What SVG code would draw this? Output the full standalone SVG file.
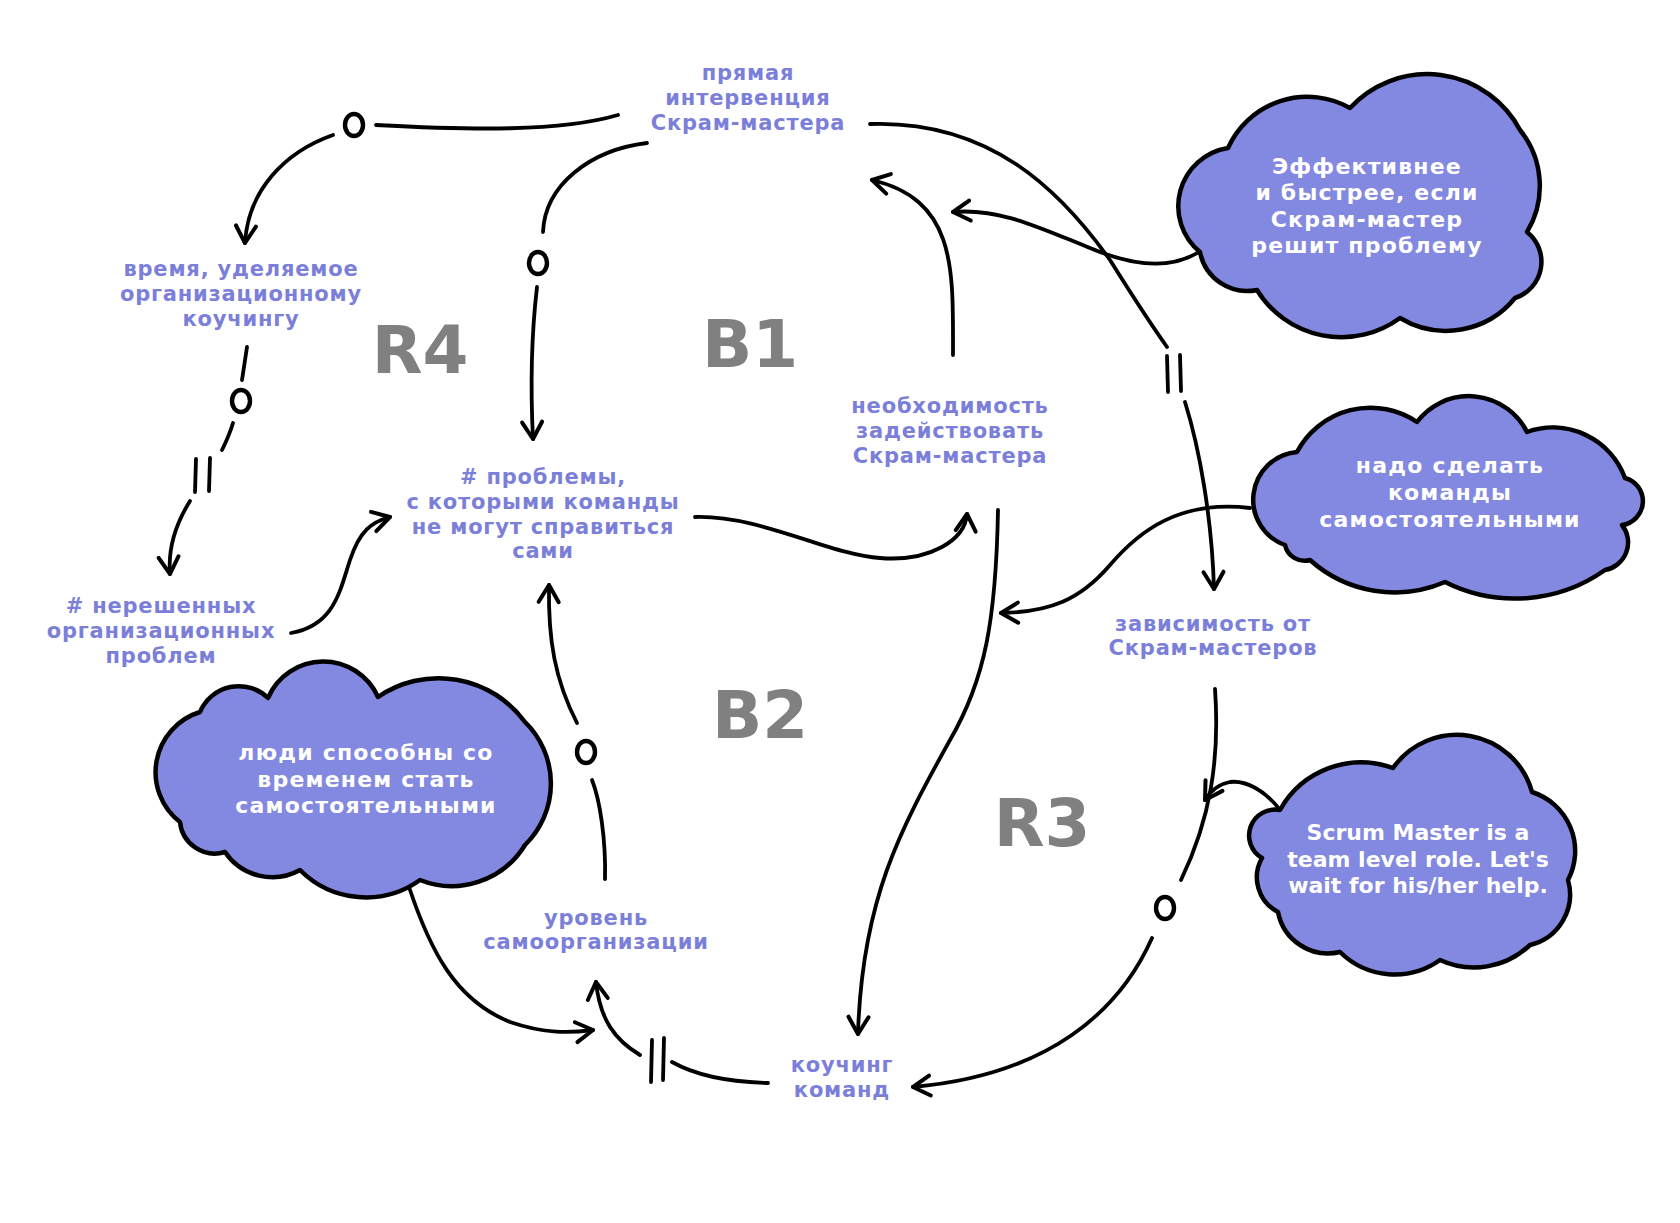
<svg xmlns="http://www.w3.org/2000/svg" width="1680" height="1223" viewBox="0 0 1680 1223">
<style>
.bg{fill:#fff}
.cloud{fill:#8388E0;stroke:#000;stroke-width:4.5;stroke-linejoin:round}
.lbl{font-family:"DejaVu Sans",sans-serif;font-weight:700;font-size:21px;letter-spacing:0.8px;fill:#7B7FD9;text-anchor:middle}
.ctx{font-family:"DejaVu Sans",sans-serif;font-weight:700;font-size:22px;letter-spacing:1.2px;fill:#fff;text-anchor:middle}
.ctx-en{letter-spacing:0}
.loop{font-family:"DejaVu Sans",sans-serif;font-weight:700;font-size:66px;fill:#808080;text-anchor:middle}
.ln{fill:none;stroke:#000;stroke-width:3.8;stroke-linecap:round;stroke-linejoin:round}
.arr{marker-end:url(#ah)}
.o{fill:none;stroke:#000;stroke-width:4.4}
</style>
<defs>
<marker id="ah" markerUnits="userSpaceOnUse" viewBox="-25 -15 30 30" refX="0" refY="0" markerWidth="30" markerHeight="30" orient="auto" overflow="visible">
<path d="M -17 -10 L 0 0 L -17 10" fill="none" stroke="#000" stroke-width="4" stroke-linecap="round" stroke-linejoin="round"/>
</marker>
</defs>
<rect class="bg" x="0" y="0" width="1680" height="1223"/>

<g id="connectors">
<!-- a: прямая -> время (o) -->
<path class="ln" d="M 618 115 C 560 132 470 130 376 125"/>
<ellipse class="o" cx="354" cy="125" rx="9" ry="11"/>
<path class="ln arr" d="M 333 135 C 285 152 248 190 245 243"/>
<!-- b: прямая -> # проблемы (o) -->
<path class="ln" d="M 647 143 C 590 150 545 185 543 232"/>
<ellipse class="o" cx="538" cy="263" rx="9" ry="11"/>
<path class="ln arr" d="M 537 287 C 532 330 530 380 533 439"/>
<!-- c: прямая -> зависимость (||) -->
<path class="ln" d="M 870 124 C 990 120 1060 190 1110 260 C 1135 300 1155 330 1167 347"/>
<path class="ln" d="M 1167 356 L 1168 392 M 1180 355 L 1181 391"/>
<path class="ln arr" d="M 1185 402 C 1200 450 1212 520 1214 589"/>
<!-- d: необходимость -> прямая -->
<path class="ln arr" d="M 953 355 C 953 270 957 200 872 180"/>
<!-- e: cloud1 -> link d -->
<path class="ln arr" d="M 1202 250 C 1170 272 1130 265 1090 248 C 1040 228 1000 208 953 212"/>
<!-- f: # проблемы -> необходимость -->
<path class="ln arr" d="M 695 517 C 760 515 830 555 880 558 C 930 562 965 540 967 514"/>
<!-- g: необходимость -> коучинг -->
<path class="ln arr" d="M 998 510 C 996 620 985 680 950 740 C 900 830 862 900 858 1034"/>
<!-- h: cloud2 -> link g -->
<path class="ln arr" d="M 1250 508 C 1180 500 1140 530 1110 565 C 1080 600 1050 612 1001 613"/>
<!-- i: зависимость -> коучинг (o) -->
<path class="ln" d="M 1215 689 C 1220 760 1210 820 1181 880"/>
<ellipse class="o" cx="1165" cy="908" rx="9" ry="11"/>
<path class="ln arr" d="M 1152 938 C 1120 1010 1050 1075 913 1087"/>
<!-- cloud3 -> link i -->
<path class="ln arr" d="M 1280 810 C 1265 790 1245 780 1230 782 C 1218 784 1210 792 1205 800"/>
<!-- j: время -> нерешенных (o, ||) -->
<path class="ln" d="M 247 347 L 242 380"/>
<ellipse class="o" cx="241" cy="401" rx="9" ry="11"/>
<path class="ln" d="M 233 423 C 230 433 226 442 222 450"/>
<path class="ln" d="M 196 459 L 195 492 M 210 458 L 209 491"/>
<path class="ln arr" d="M 190 501 C 175 525 168 550 170 574"/>
<!-- k: нерешенных -> # проблемы -->
<path class="ln arr" d="M 291 633 C 335 625 340 590 350 560 C 360 530 372 522 390 517"/>
<!-- l: уровень -> # проблемы (o) -->
<path class="ln" d="M 605 879 C 606 840 600 800 592 780"/>
<ellipse class="o" cx="586" cy="752" rx="9" ry="11"/>
<path class="ln arr" d="M 577 723 C 555 680 548 640 549 585"/>
<!-- m: cloud4 -> уровень -->
<path class="ln arr" d="M 409 887 C 430 950 455 1000 510 1022 C 545 1034 570 1033 593 1030"/>
<!-- n: коучинг -> уровень (||) -->
<path class="ln" d="M 768 1083 C 730 1082 695 1075 672 1062"/>
<path class="ln" d="M 652 1040 L 651 1082 M 664 1038 L 663 1080"/>
<path class="ln arr" d="M 640 1055 C 615 1040 600 1020 596 982"/>
</g>

<g id="loop-R4"><text class="loop" x="420" y="373">R4</text></g>
<g id="loop-B1"><text class="loop" x="750" y="367">B1</text></g>
<g id="loop-B2"><text class="loop" x="760" y="738">B2</text></g>
<g id="loop-R3"><text class="loop" x="1042" y="846">R3</text></g>

<g id="node-intervention"><text class="lbl"><tspan x="748" y="80">прямая</tspan><tspan x="748" y="105">интервенция</tspan><tspan x="748" y="130">Скрам-мастера</tspan></text></g>
<g id="node-time"><text class="lbl"><tspan x="241" y="276">время, уделяемое</tspan><tspan x="241" y="301">организационному</tspan><tspan x="241" y="326">коучингу</tspan></text></g>
<g id="node-problems"><text class="lbl"><tspan x="543" y="484">#&#160;проблемы,</tspan><tspan x="543" y="509">с которыми команды</tspan><tspan x="543" y="534">не могут справиться</tspan><tspan x="543" y="558">сами</tspan></text></g>
<g id="node-need"><text class="lbl"><tspan x="950" y="413">необходимость</tspan><tspan x="950" y="438">задействовать</tspan><tspan x="950" y="463">Скрам-мастера</tspan></text></g>
<g id="node-unsolved"><text class="lbl"><tspan x="161" y="613">#&#160;нерешенных</tspan><tspan x="161" y="638">организационных</tspan><tspan x="161" y="663">проблем</tspan></text></g>
<g id="node-dependency"><text class="lbl"><tspan x="1213" y="631">зависимость от</tspan><tspan x="1213" y="655">Скрам-мастеров</tspan></text></g>
<g id="node-selforg"><text class="lbl"><tspan x="596" y="925">уровень</tspan><tspan x="596" y="949">самоорганизации</tspan></text></g>
<g id="node-coaching"><text class="lbl"><tspan x="842" y="1072">коучинг</tspan><tspan x="842" y="1097">команд</tspan></text></g>

<g id="cloud-faster">
<path class="cloud" d="M 1200 252 A 59 59 0 0 1 1228 148 A 87 87 0 0 1 1350 108 A 105 105 0 0 1 1520 130 A 89 89 0 0 1 1527 232 A 38 38 0 0 1 1515 298 A 89 89 0 0 1 1400 318 A 99 99 0 0 1 1257 290 A 48 48 0 0 1 1200 252 Z"/>
<text class="ctx"><tspan x="1367" y="174">Эффективнее</tspan><tspan x="1367" y="200">и быстрее, если</tspan><tspan x="1367" y="227">Скрам-мастер</tspan><tspan x="1367" y="253">решит проблему</tspan></text>
</g>
<g id="cloud-independent">
<path class="cloud" d="M 1285 545 A 48 48 0 0 1 1297 452 A 83 83 0 0 1 1417 422 A 65 65 0 0 1 1527 432 A 77 77 0 0 1 1625 478 A 24 24 0 0 1 1622 525 A 28 28 0 0 1 1605 570 A 156 156 0 0 1 1445 582 A 127 127 0 0 1 1310 560 A 20 20 0 0 1 1285 545 Z"/>
<text class="ctx"><tspan x="1450" y="473">надо сделать</tspan><tspan x="1450" y="500">команды</tspan><tspan x="1450" y="527">самостоятельными</tspan></text>
</g>
<g id="cloud-teamrole">
<path class="cloud" d="M 1280 810 A 93 93 0 0 1 1393 768 A 78 78 0 0 1 1532 792 A 62 62 0 0 1 1568 880 A 52 52 0 0 1 1530 945 A 81 81 0 0 1 1440 960 A 78 78 0 0 1 1340 952 A 51 51 0 0 1 1278 912 A 39 39 0 0 1 1262 858 A 26 26 0 0 1 1280 810 Z"/>
<text class="ctx ctx-en"><tspan x="1418" y="840">Scrum Master is a</tspan><tspan x="1418" y="867">team level role. Let's</tspan><tspan x="1418" y="893">wait for his/her help.</tspan></text>
</g>
<g id="cloud-people">
<path class="cloud" d="M 180 822 A 63 63 0 0 1 200 712 A 42 42 0 0 1 268 698 A 60 60 0 0 1 378 697 A 107 107 0 0 1 525 722 A 86 86 0 0 1 525 845 A 86 86 0 0 1 420 880 A 93 93 0 0 1 300 870 A 57 57 0 0 1 225 852 A 35 35 0 0 1 180 822 Z"/>
<text class="ctx"><tspan x="366" y="760">люди способны со</tspan><tspan x="366" y="787">временем стать</tspan><tspan x="366" y="813">самостоятельными</tspan></text>
</g>
</svg>
